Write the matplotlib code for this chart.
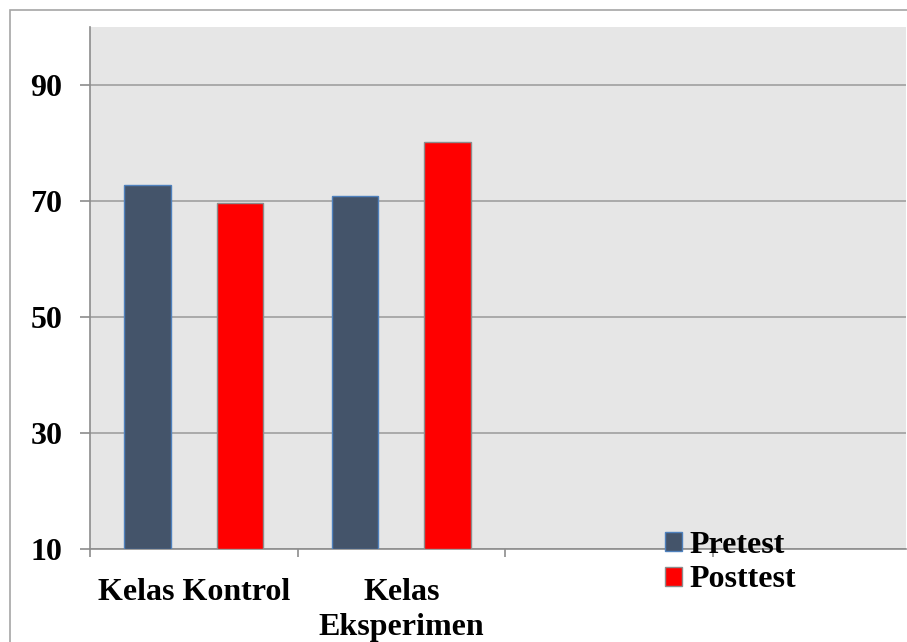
import matplotlib
matplotlib.use("Agg")
import matplotlib.pyplot as plt
import numpy as np
from matplotlib.patches import Rectangle

categories = ["Kelas Kontrol", "Kelas\nEksperimen"]
series_names = ["Pretest", "Posttest"]
pretest = [72.8, 70.9]
posttest = [69.6, 80.2]
y_ticks = [10, 30, 50, 70, 90]

W, H = 907, 642
fig = plt.figure(figsize=(W / 100, H / 100), dpi=100)
plt.rcParams["font.family"] = ["Liberation Serif", "DejaVu Serif"]
FS = 23

# outer chart frame (cropped on right and bottom)
fig.patches.append(Rectangle((10 / W, -0.01), 1.0, 1 - 9.5 / H + 0.01,
                             transform=fig.transFigure, fill=False,
                             edgecolor="#A6A6A6", linewidth=1.2))

ax = fig.add_axes([90 / W, (H - 549) / H, (906 - 90) / W, (549 - 27) / H])
ax.set_facecolor("#E6E6E6")

x = np.arange(len(categories))
width = 0.224
offset = 0.222
ax.bar(x - offset, np.array(pretest) - 10, width, bottom=10, color="#44546A",
       edgecolor="#4F81BD", linewidth=1.0, label=series_names[0], zorder=3)
ax.bar(x + offset, np.array(posttest) - 10, width, bottom=10, color="#FF0000",
       edgecolor="#8C8C8C", linewidth=1.0, label=series_names[1], zorder=3)

ax.set_ylim(10, 100)
ax.set_xlim(-0.5, -0.5 + 816 / 207.5)
ax.set_yticks(y_ticks)
ax.set_yticklabels([str(v) for v in y_ticks], fontsize=FS, fontweight="bold")
ax.yaxis.grid(True, color="#A0A0A0", linewidth=1.2, zorder=1)
ax.set_axisbelow(True)

ax.set_xticks([-0.5, 0.5, 1.5, 2.5])
ax.set_xticklabels([])
ax.set_xticks(x, minor=True)
ax.set_xticklabels(categories, minor=True, fontsize=FS, fontweight="bold",
                   linespacing=1.25)
ax.tick_params(axis="x", which="minor", length=0, pad=21)
ax.tick_params(axis="x", which="major", length=6, color="#8C8C8C", width=1.2)
ax.tick_params(axis="y", length=7, color="#8C8C8C", width=1.2, pad=13)

for side in ["top", "right"]:
    ax.spines[side].set_visible(False)
for side in ["left", "bottom"]:
    ax.spines[side].set_color("#8C8C8C")
    ax.spines[side].set_linewidth(1.2)

leg = ax.legend(loc="upper left", bbox_to_anchor=(575 / 816, 18 / 522),
                frameon=False, prop={"size": FS, "weight": "bold"},
                handlelength=0.53, handleheight=0.53, handletextpad=0.22,
                labelspacing=0.17, borderaxespad=0, borderpad=0)

fig.savefig("out.png", dpi=100)
